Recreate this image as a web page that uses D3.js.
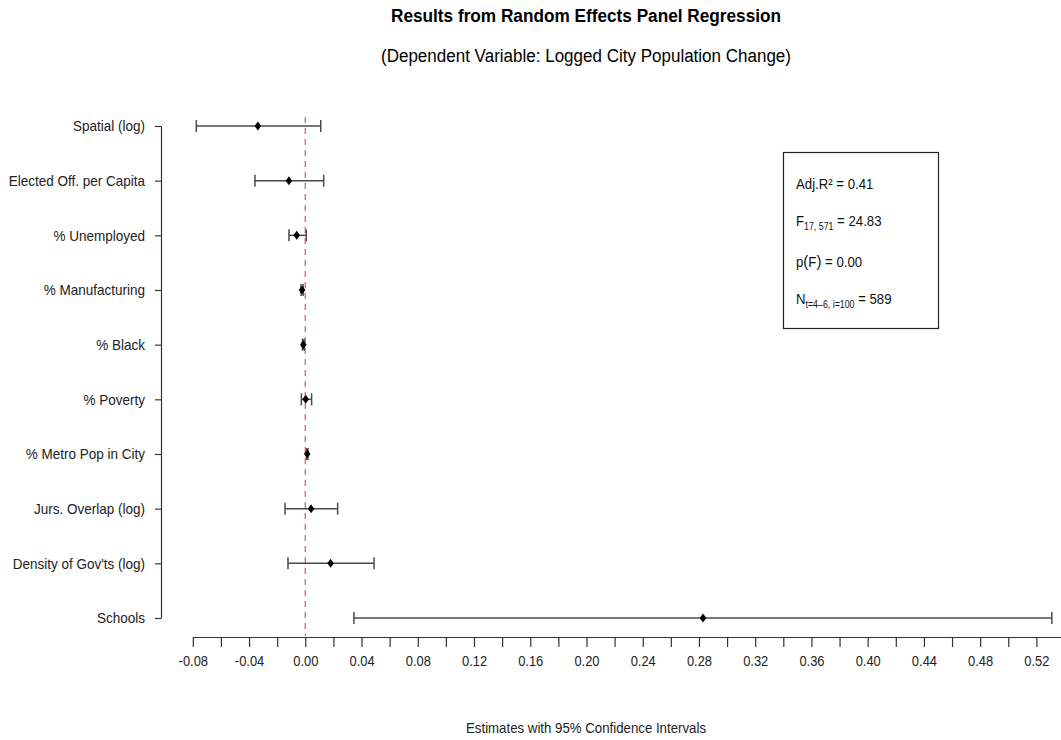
<!DOCTYPE html>
<html>
<head>
<meta charset="utf-8">
<script src="https://cdn.jsdelivr.net/npm/d3@7"></script>
<style>
  html, body { margin: 0; padding: 0; background: #fff; }
  svg { display: block; font-family: "Liberation Sans", Arial, sans-serif; }
</style>
</head>
<body>
<svg id="chart" width="1061" height="740"></svg>
<script>
// Coefficients from the random effects panel model, top to bottom
const categories = [
  "Spatial (log)", "Elected Off. per Capita", "% Unemployed", "% Manufacturing",
  "% Black", "% Poverty", "% Metro Pop in City", "Jurs. Overlap (log)",
  "Density of Gov'ts (log)", "Schools"
];
const estimates = [-0.0337, -0.0116, -0.0061, -0.0023, -0.0014, 0.0003, 0.0014, 0.0041, 0.0180, 0.2829];
const lower     = [-0.0775, -0.0358, -0.0116, -0.0030, -0.0020, -0.0028, 0.0010, -0.0144, -0.0123, 0.0346];
const upper     = [ 0.0110,  0.0131,  0.0007, -0.0015, -0.0008,  0.0045, 0.0019,  0.0230,  0.0489, 0.5310];

// Axis ticks: minor every 0.02, labelled every 0.04
const tickValues = d3.range(-8, 55, 2).map(v => v / 100);
const labelledTicks = d3.range(-8, 53, 4).map(v => v / 100);

const svg = d3.select("#chart");

const x = d3.scaleLinear().domain([-0.08, 0.54]).range([192.8, 192.8 + 0.62 * 1406]);
const y = d3.scalePoint().domain(categories).range([126, 618]).padding(0);

// Narrow the glyphs of a text selection horizontally
const condense = (sel, k) => sel
  .attr("textLength", function () { return this.getComputedTextLength() * k; })
  .attr("lengthAdjust", "spacingAndGlyphs");

// Titles
svg.append("text")
  .attr("x", 586).attr("y", 22)
  .attr("text-anchor", "middle")
  .attr("font-size", 18).attr("font-weight", "bold")
  .attr("textLength", 390).attr("lengthAdjust", "spacingAndGlyphs")
  .text("Results from Random Effects Panel Regression");
svg.append("text")
  .attr("x", 586).attr("y", 62)
  .attr("text-anchor", "middle")
  .attr("font-size", 18)
  .attr("textLength", 410).attr("lengthAdjust", "spacingAndGlyphs")
  .text("(Dependent Variable: Logged City Population Change)");

// Reference line at zero
svg.append("line")
  .attr("x1", x(0)).attr("x2", x(0))
  .attr("y1", 117).attr("y2", 636)
  .attr("stroke", "#f06a6a").attr("stroke-width", 1.4)
  .attr("stroke-dasharray", "6,5");

// X axis
const labelSet = new Set(labelledTicks.map(v => v.toFixed(2)));
const fmt = v => (v < -1e-9 ? "-" : "") + Math.abs(v).toFixed(2);
const xAxis = d3.axisBottom(x)
  .tickValues(tickValues)
  .tickSize(10)
  .tickSizeOuter(0)
  .tickPadding(8)
  .tickFormat(v => labelSet.has(v.toFixed(2)) ? fmt(v) : "");
const gx = svg.append("g").attr("transform", "translate(0,637)").call(xAxis);
gx.select(".domain").attr("stroke", "#333").attr("stroke-width", 1.2);
gx.selectAll(".tick line").attr("stroke", "#333").attr("stroke-width", 1.2);
gx.selectAll(".tick text")
  .attr("font-size", 15).attr("fill", "#222")
  .attr("font-family", "Liberation Sans, Arial, sans-serif");
condense(gx.selectAll(".tick text"), 0.86);

// Y axis
const yAxis = d3.axisLeft(y).tickSize(6).tickSizeOuter(0).tickPadding(10);
const gy = svg.append("g").attr("transform", "translate(161,0)").call(yAxis);
gy.select(".domain").attr("stroke", "#333").attr("stroke-width", 1.2);
gy.selectAll(".tick line").attr("stroke", "#333").attr("stroke-width", 1.2);
gy.selectAll(".tick text")
  .attr("font-size", 15).attr("fill", "#222")
  .attr("font-family", "Liberation Sans, Arial, sans-serif");
condense(gy.selectAll(".tick text"), 0.9);

// X axis title
svg.append("text")
  .attr("x", 586).attr("y", 733)
  .attr("text-anchor", "middle")
  .attr("font-size", 15).attr("fill", "#222")
  .attr("textLength", 240).attr("lengthAdjust", "spacingAndGlyphs")
  .text("Estimates with 95% Confidence Intervals");

// Confidence intervals
const rows = categories.map((c, i) => ({ c, est: estimates[i], lo: lower[i], hi: upper[i] }));
const ci = svg.append("g").attr("stroke", "#4a4a4a").attr("stroke-width", 1.5);
ci.selectAll("line.bar").data(rows).join("line").attr("class", "bar")
  .attr("x1", d => x(d.lo)).attr("x2", d => x(d.hi))
  .attr("y1", d => y(d.c)).attr("y2", d => y(d.c));
ci.selectAll("line.capl").data(rows).join("line").attr("class", "capl")
  .attr("x1", d => x(d.lo)).attr("x2", d => x(d.lo))
  .attr("y1", d => y(d.c) - 6).attr("y2", d => y(d.c) + 6);
ci.selectAll("line.caph").data(rows).join("line").attr("class", "caph")
  .attr("x1", d => x(d.hi)).attr("x2", d => x(d.hi))
  .attr("y1", d => y(d.c) - 6).attr("y2", d => y(d.c) + 6);

// Point estimates as small diamonds
svg.append("g").selectAll("path").data(rows).join("path")
  .attr("transform", d => `translate(${x(d.est)},${y(d.c)})`)
  .attr("d", "M0,-4.5 L3.3,0 L0,4.5 L-3.3,0 Z")
  .attr("fill", "#000");

// Fit statistics box
const box = svg.append("g");
box.append("rect")
  .attr("x", 783.5).attr("y", 152.5).attr("width", 155).attr("height", 176)
  .attr("fill", "none").attr("stroke", "#222").attr("stroke-width", 1.2);

const statText = (yy) => box.append("text")
  .attr("x", 796).attr("y", yy)
  .attr("font-size", 15).attr("fill", "#111");

statText(189).text("Adj.R\u00B2 = 0.41");

const t2 = statText(226);
t2.append("tspan").text("F");
t2.append("tspan").attr("font-size", 10).attr("dy", 4).text("17, 571");
t2.append("tspan").attr("dy", -4).text(" = 24.83");

const t3 = statText(267);
t3.append("tspan").text("p");
t3.append("tspan").attr("font-size", 17).text("(");
t3.append("tspan").text("F");
t3.append("tspan").attr("font-size", 17).text(")");
t3.append("tspan").text(" = 0.00");

const t4 = statText(304);
t4.append("tspan").text("N");
t4.append("tspan").attr("font-size", 10).attr("dy", 4).text("t=4\u20136, i=100");
t4.append("tspan").attr("dy", -4).text(" = 589");

condense(box.selectAll("text"), 0.88);
</script>
</body>
</html>
